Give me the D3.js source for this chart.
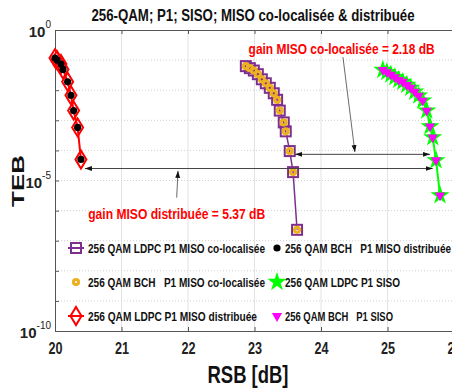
<!DOCTYPE html>
<html>
<head>
<meta charset="utf-8">
<script src="https://cdn.jsdelivr.net/npm/d3@7"></script>
<style>
  body { margin: 0; background: #fff; }
  text { font-family: "Liberation Sans Narrow", "Liberation Sans", Arial, sans-serif; }
</style>
</head>
<body>
<svg id="chart" width="452" height="390"></svg>
<script>
// --- data ---
var titleText = "256-QAM; P1; SISO; MISO co-localisée & distribuée";
var xTicks = [20, 21, 22, 23, 24, 25, 26];
var yTickExp = [0, -5, -10];

// MISO distribuée (LDPC red diamonds, BCH black dots)
var distRsb = [20.00, 20.03, 20.09, 20.12, 20.19, 20.24, 20.28, 20.34, 20.39];
var distTeb = [0.117, 0.100, 0.074, 0.049, 0.019, 6.8e-3, 2.1e-3, 5.8e-4, 5.0e-5];

// MISO co-localisée (LDPC purple squares, BCH orange circles)
var coRsb = [22.87, 22.93, 22.99, 23.05, 23.11, 23.17, 23.23, 23.29, 23.34, 23.38, 23.44, 23.47, 23.53, 23.58, 23.64];
var coTeb = [0.063, 0.054, 0.045, 0.034, 0.023, 0.017, 0.012, 7.9e-3, 4.8e-3, 2.1e-3, 8.5e-4, 4.3e-4, 9.5e-5, 1.9e-5, 2.3e-7];

// SISO (LDPC green stars, BCH magenta triangles)
var sisoRsb = [24.93, 24.99, 25.05, 25.11, 25.17, 25.23, 25.29, 25.35, 25.41, 25.47, 25.53, 25.59, 25.64, 25.68, 25.73, 25.79];
var sisoTeb = [0.047, 0.040, 0.033, 0.027, 0.022, 0.019, 0.015, 0.012, 8.9e-3, 6.6e-3, 4.5e-3, 2.1e-3, 6.3e-4, 2.7e-4, 4.7e-5, 3.2e-6];

// annotation arrows [x1, y1, x2, y2] in data units
var gainArrows = [[20.45, 2.5e-5, 25.68, 2.5e-5], [23.61, 7.4e-5, 25.64, 7.4e-5]];
var pointers = [[24.33, 0.126, 24.51, 8.8e-5], [21.83, 2.7e-6, 21.85, 2.1e-5]];
var gainLabels = ["gain MISO co-localisée = 2.18 dB", "gain MISO distribuée = 5.37 dB"];
var gainLabelPos = [[24.31, 0.165], [21.83, 5.4e-7]];

var legendLabels = [
  "256 QAM LDPC P1 MISO co-localisée", "256 QAM BCH   P1 MISO distribuée",
  "256 QAM BCH   P1 MISO co-localisée", "256 QAM LDPC P1 SISO",
  "256 QAM LDPC P1 MISO distribuée", "256 QAM BCH   P1 SISO"
];
var legendKeys = ["coL", "distB", "coB", "sisoL", "distL", "sisoB"];
var legendTextW = [177, 166, 177, 115, 169, 108];

var svg = d3.select("#chart");
var x = d3.scaleLinear().domain([20, 26]).range([55, 454]);
var y = d3.scaleLog().domain([1e-10, 1]).range([331, 30]);

var colors = {purple: "#7E2F8E", orange: "#EDB120", red: "#FF0000", green: "#00FF00", magenta: "#FF00FF"};

function zip(a, b) { return a.map(function (v, i) { return {x: v, y: b[i]}; }); }
var dist = zip(distRsb, distTeb), co = zip(coRsb, coTeb), siso = zip(sisoRsb, sisoTeb);

// grid
var decades = d3.range(-10, 1).map(function (e) { return Math.pow(10, e); });
svg.append("g").selectAll("line").data(xTicks.slice(1)).enter().append("line")
  .attr("x1", x).attr("x2", x).attr("y1", y(1)).attr("y2", y(1e-10))
  .attr("stroke", "#e3e3e3").attr("stroke-width", 1);
svg.append("g").selectAll("line").data(decades.slice(1, -1)).enter().append("line")
  .attr("x1", x(20)).attr("x2", 452).attr("y1", y).attr("y2", y)
  .attr("stroke", "#cfcfcf").attr("stroke-dasharray", "1,2");

// axes
var xAxis = svg.append("g").attr("transform", "translate(0," + y(1e-10) + ")")
  .call(d3.axisBottom(x).tickValues(xTicks).tickSize(-4).tickPadding(12).tickFormat(d3.format("d")));
xAxis.select(".domain").attr("stroke", "#555");
xAxis.selectAll(".tick line").attr("stroke", "#555");
xAxis.selectAll("text").attr("font-size", 16).attr("font-weight", "bold").attr("fill", "#222")
  .attr("textLength", 14).attr("lengthAdjust", "spacingAndGlyphs");

var topAxis = svg.append("g").attr("transform", "translate(0," + y(1) + ")")
  .call(d3.axisTop(x).tickValues(xTicks).tickSize(-4).tickFormat(""));
topAxis.select(".domain").attr("stroke", "#555");
topAxis.selectAll(".tick line").attr("stroke", "#555");

var yAxis = svg.append("g").attr("transform", "translate(" + x(20) + ",0)")
  .call(d3.axisLeft(y).tickValues(decades).tickSize(-4).tickFormat(""));
yAxis.select(".domain").attr("stroke", "#555");
yAxis.selectAll(".tick line").attr("stroke", "#555");

var yLab = svg.append("g").selectAll("text").data(yTickExp).enter().append("text")
  .attr("x", x(20) - 4)
  .attr("y", function (d) { return y(Math.pow(10, d)) + 7; })
  .attr("text-anchor", "end").attr("fill", "#222");
yLab.append("tspan").attr("font-size", 15).attr("font-weight", "bold").text("10");
yLab.append("tspan").attr("font-size", 10).attr("dy", -9).text(function (d) { return d; });

// series lines
var line = d3.line().x(function (d) { return x(d.x); }).y(function (d) { return y(d.y); });
svg.append("path").datum(co).attr("d", line).attr("fill", "none").attr("stroke", colors.purple).attr("stroke-width", 1.5);
svg.append("path").datum(dist).attr("d", line).attr("fill", "none").attr("stroke", colors.red).attr("stroke-width", 2);
svg.append("path").datum(siso).attr("d", line).attr("fill", "none").attr("stroke", colors.green).attr("stroke-width", 2);

// marker drawers
var markers = {
  coL: function (g) { g.append("rect").attr("x", -5).attr("y", -5).attr("width", 10).attr("height", 10)
         .attr("fill", "none").attr("stroke", colors.purple).attr("stroke-width", 2); },
  coB: function (g) { g.append("circle").attr("r", 2.6).attr("fill", "none").attr("stroke", colors.orange).attr("stroke-width", 3); },
  distL: function (g) { g.append("path").attr("d", "M0,-9L5.5,0L0,9L-5.5,0Z")
         .attr("fill", "none").attr("stroke", colors.red).attr("stroke-width", 2); },
  distB: function (g) { g.append("circle").attr("r", 3.6).attr("fill", "#000"); },
  sisoL: function (g) { g.append("path").attr("d", d3.symbol(d3.symbolStar, 75)())
         .attr("fill", colors.green).attr("stroke", colors.green).attr("stroke-width", 1.2); },
  sisoB: function (g) { g.append("path").attr("d", d3.symbol(d3.symbolTriangle, 45)()).attr("transform", "rotate(180)")
         .attr("fill", colors.magenta); }
};

function drawPoints(data, key) {
  svg.append("g").selectAll("g").data(data).enter().append("g")
    .attr("transform", function (d) { return "translate(" + x(d.x) + "," + y(d.y) + ")"; })
    .each(function () { markers[key](d3.select(this)); });
}
drawPoints(co, "coL"); drawPoints(co, "coB");
drawPoints(dist, "distL"); drawPoints(dist, "distB");
drawPoints(siso, "sisoL"); drawPoints(siso, "sisoB");

// annotations
var defs = svg.append("defs");
defs.append("marker").attr("id", "ah").attr("viewBox", "0 0 10 10").attr("refX", 10).attr("refY", 5)
  .attr("markerWidth", 7).attr("markerHeight", 7).attr("markerUnits", "userSpaceOnUse")
  .attr("orient", "auto-start-reverse")
  .append("path").attr("d", "M0,1.5L10,5L0,8.5Z").attr("fill", "#111");

svg.append("g").selectAll("line").data(gainArrows).enter().append("line")
  .attr("x1", function (d) { return x(d[0]); }).attr("y1", function (d) { return y(d[1]); })
  .attr("x2", function (d) { return x(d[2]); }).attr("y2", function (d) { return y(d[3]); })
  .attr("stroke", "#444").attr("stroke-width", 1)
  .attr("marker-start", "url(#ah)").attr("marker-end", "url(#ah)");
svg.append("g").selectAll("line").data(pointers).enter().append("line")
  .attr("x1", function (d) { return x(d[0]); }).attr("y1", function (d) { return y(d[1]); })
  .attr("x2", function (d) { return x(d[2]); }).attr("y2", function (d) { return y(d[3]); })
  .attr("stroke", "#444").attr("stroke-width", 0.8).attr("marker-end", "url(#ah)");

svg.append("g").selectAll("text").data(gainLabels).enter().append("text")
  .attr("x", function (d, i) { return x(gainLabelPos[i][0]); })
  .attr("y", function (d, i) { return y(gainLabelPos[i][1]); })
  .attr("text-anchor", "middle").attr("font-size", 15).attr("font-weight", "bold").attr("fill", "#FF0000")
  .attr("textLength", function (d, i) { return i === 0 ? 186 : 177; }).attr("lengthAdjust", "spacingAndGlyphs")
  .text(function (d) { return d; });

// legend (transparent, 2 columns x 3 rows)
var leg = svg.append("g");
legendLabels.forEach(function (lab, i) {
  var col = i % 2, row = Math.floor(i / 2);
  var g = leg.append("g").attr("transform", "translate(" + (col === 0 ? 76 : 277) + "," + (248 + row * 34) + ")");
  if (legendKeys[i] === "coL" || legendKeys[i] === "distL") {
    g.append("line").attr("x1", -8).attr("x2", 8)
      .attr("stroke", legendKeys[i] === "coL" ? colors.purple : colors.red).attr("stroke-width", 2);
  }
  markers[legendKeys[i]](g);
  g.append("text").attr("x", col === 0 ? 12 : 8).attr("y", 5)
    .attr("font-size", 13).attr("font-weight", "bold").attr("fill", "#111")
    .style("white-space", "pre")
    .attr("textLength", legendTextW[i]).attr("lengthAdjust", "spacingAndGlyphs")
    .text(lab);
});

// titles
svg.append("text").attr("x", 253).attr("y", 21).attr("text-anchor", "middle")
  .attr("font-size", 17).attr("font-weight", "bold").attr("fill", "#111")
  .attr("textLength", 323).attr("lengthAdjust", "spacingAndGlyphs").text(titleText);
svg.append("text").attr("x", 248).attr("y", 383).attr("text-anchor", "middle")
  .attr("font-size", 24).attr("font-weight", "bold").attr("fill", "#111")
  .attr("textLength", 81).attr("lengthAdjust", "spacingAndGlyphs").text("RSB [dB]");
svg.append("text").attr("transform", "translate(24,181) rotate(-90)").attr("text-anchor", "middle")
  .attr("font-size", 17).attr("font-weight", "bold").attr("fill", "#111")
  .attr("textLength", 52).attr("lengthAdjust", "spacingAndGlyphs").text("TEB");
</script>
</body>
</html>
